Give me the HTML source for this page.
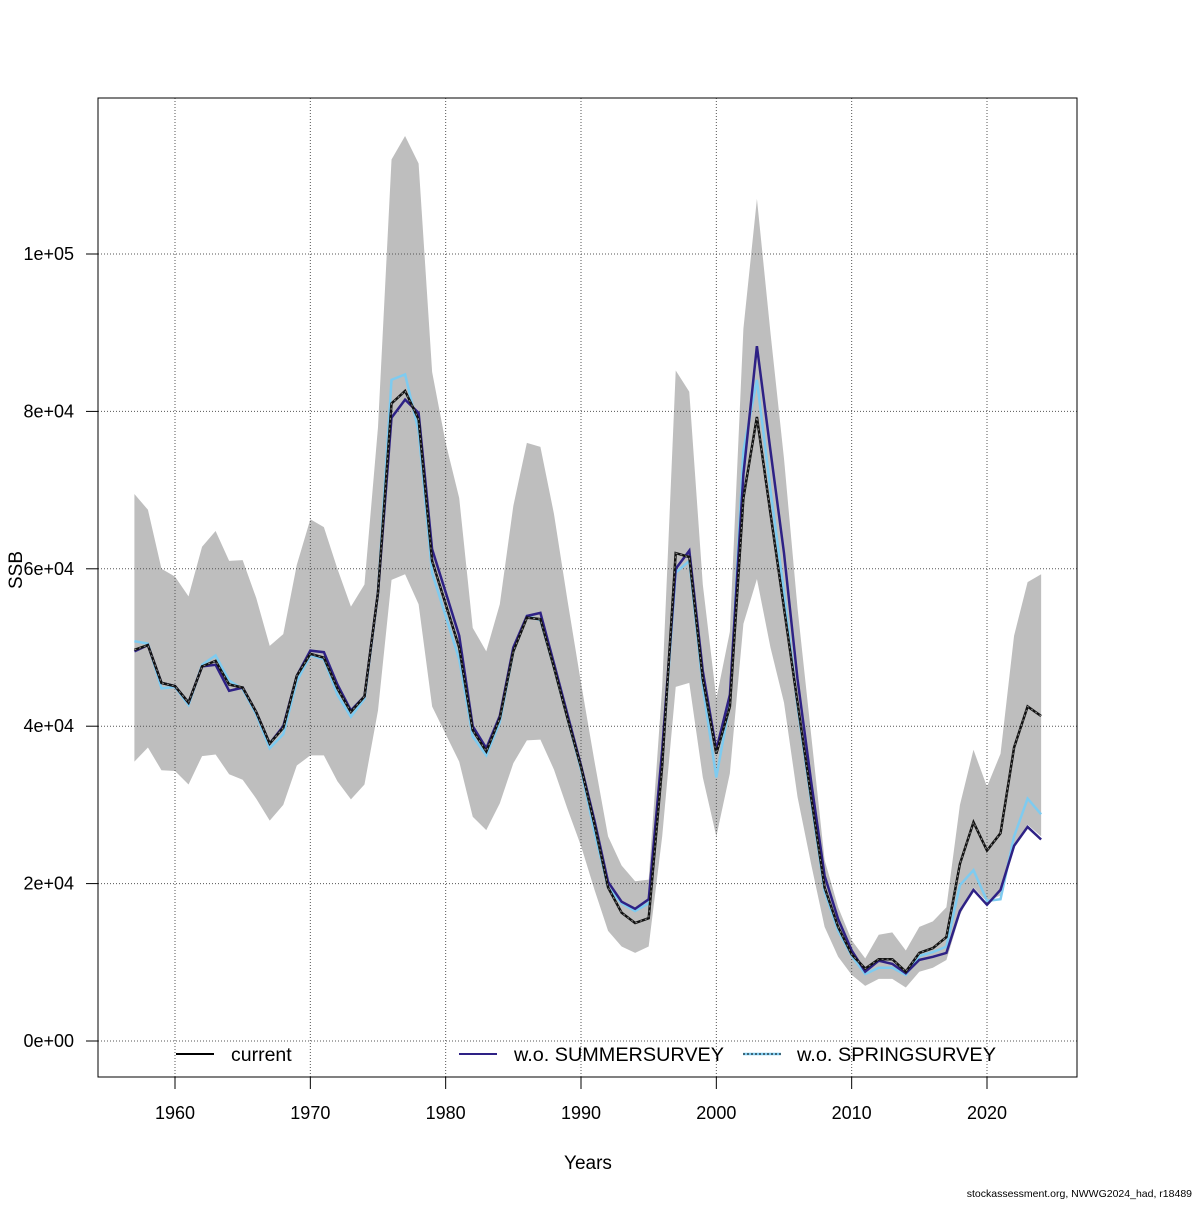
<!DOCTYPE html>
<html><head><meta charset="utf-8"><style>
html,body{margin:0;padding:0;background:#fff}
svg text{font-family:"Liberation Sans",sans-serif;fill:#000}
</style></head><body>
<svg id="chart" width="1200" height="1200" xmlns="http://www.w3.org/2000/svg">
<g id="band"></g>
<g id="grid"></g>
<g id="series"></g>
<rect x="98" y="98" width="979" height="979" fill="none" stroke="#000" stroke-width="1"/>
<g id="axes"></g>
<text x="588" y="1169" font-size="19" text-anchor="middle">Years</text>
<text transform="translate(22,570) rotate(-90)" font-size="19" text-anchor="middle">SSB</text>
<g>
<g><line x1="176" y1="1054" x2="214" y2="1054" stroke="#000" stroke-width="2"/><text x="231" y="1061" font-size="19.5">current</text></g>
<g><line x1="459" y1="1054" x2="497" y2="1054" stroke="#2e2185" stroke-width="2"/><text x="514" y="1061" font-size="19.5" textLength="210" lengthAdjust="spacingAndGlyphs">w.o. SUMMERSURVEY</text></g>
<g><line x1="743" y1="1054" x2="781" y2="1054" stroke="#7ecbf0" stroke-width="2.5"/><line x1="743" y1="1054" x2="781" y2="1054" stroke="#000" stroke-width="1" stroke-dasharray="2,2"/><text x="797" y="1061" font-size="19.5" textLength="199" lengthAdjust="spacingAndGlyphs">w.o. SPRINGSURVEY</text></g>
</g>
<text x="1192" y="1197" font-size="10.5" text-anchor="end">stockassessment.org, NWWG2024_had, r18489</text>
</svg>
<script>
const years=[];for(let y=1957;y<=2024;y++)years.push(y);
const current=[49.7,50.3,45.5,45.1,43.0,47.6,48.3,45.3,44.9,41.8,37.8,39.8,46.4,49.2,48.7,44.8,41.8,43.8,57,81,82.6,79,61,55.5,50,39.5,36.8,41,49.5,53.8,53.6,47.5,41,34.8,27.5,19.5,16.3,15.0,15.6,35,62,61.5,46,36.5,42.5,69,79.3,67,55,43,31,19.5,14.5,11,9.2,10.4,10.4,8.8,11.2,11.8,13.2,22.5,27.8,24.2,26.4,37.3,42.5,41.3];
const summer=[49.5,50.3,45.5,45.1,43.0,47.6,47.8,44.5,44.9,41.8,37.8,40,46.4,49.6,49.4,45.3,42.0,43.8,57,79.2,81.5,79.8,62.5,57,51.5,40,37.2,41.3,50,54,54.4,48,41.5,35,28,20.2,17.7,16.8,18,37,60,62.3,47,37,44,72,88.3,75,62,46,33,21,15.5,11.5,8.8,10.2,9.8,8.6,10.3,10.7,11.2,16.5,19.2,17.3,19.2,24.8,27.2,25.6];
const spring=[50.8,50.5,44.8,45,42.7,47.8,49,45.8,44.7,41.5,37.2,39,45.7,49,48.5,44,41.2,43.5,57,84,84.7,77.5,59.5,54,48.5,38.7,36.3,40.5,49.5,54,53.5,47.5,41,34.5,26.5,19.5,17.5,16.5,17.5,36,59.5,61,45,33.5,43,75,84,70,57,42.5,30.5,19,14,10.8,8.5,9.3,9.3,8.4,10.8,11.3,12,19.8,21.7,17.8,18,26,30.8,28.8];
const upper=[69.5,67.5,60,59,56.5,62.8,64.8,61,61.1,56.3,50.2,51.7,60.5,66.3,65.3,60,55.2,58,78,112,115,111.5,85,76,69,52.5,49.5,55.5,68,76,75.5,67,56,45.5,35.5,26,22.3,20.3,20.5,45,85.2,82.5,58,43.5,52,90.5,107,90,74,55,39,23,17,12.8,10.5,13.5,13.8,11.5,14.5,15.2,17,30,37,32.3,36.5,51.5,58.3,59.3];
const lower=[35.5,37.3,34.4,34.3,32.6,36.2,36.4,33.9,33.2,30.8,28,30,35,36.3,36.3,33,30.7,32.6,42,58.6,59.3,55.5,42.5,39,35.5,28.5,26.8,30.2,35.3,38.2,38.3,34.5,29.5,24.8,19.2,14,12,11.2,12,26,45,45.5,33.5,26,34,53,58.7,50,43,31,22.5,14.5,10.7,8.4,7,7.9,7.9,6.8,8.8,9.3,10.3,16,19.5,17.7,18.5,24.7,27.5,26];
const xTicks=[1960,1970,1980,1990,2000,2010,2020];
const yTicks=[0,20,40,60,80,100];
const yTickLabels=["0e+00","2e+04","4e+04","6e+04","8e+04","1e+05"];
const NS="http://www.w3.org/2000/svg";
function sx(y){return 175+(y-1960)*(987-175)/60;}
function sy(v){return 1041-v*7.87;}
function mk(tag,attrs,parent){const e=document.createElementNS(NS,tag);for(const k in attrs)e.setAttribute(k,attrs[k]);parent.appendChild(e);return e;}
const band=document.getElementById('band');
let pts=years.map((y,i)=>sx(y)+','+sy(upper[i]));
pts=pts.concat(years.slice().reverse().map((y,j)=>sx(y)+','+sy(lower[years.length-1-j])));
const poly=mk('polygon',{points:pts.join(' '),fill:'#bebebe',stroke:'none'},band);


const grid=document.getElementById('grid');
xTicks.forEach(t=>{const l=mk('line',{x1:sx(t),x2:sx(t),y1:98,y2:1077,stroke:'#555',"stroke-width":1,"stroke-dasharray":"1,2"},grid);

});
yTicks.forEach(t=>{const l=mk('line',{x1:98,x2:1077,y1:sy(t),y2:sy(t),stroke:'#555',"stroke-width":1,"stroke-dasharray":"1,2"},grid);

});
const ser=document.getElementById('series');
function path(arr){return years.map((y,i)=>(i?'L':'M')+sx(y).toFixed(1)+','+sy(arr[i]).toFixed(1)).join(' ');}
const pSpring=mk('path',{d:path(spring),fill:'none',stroke:'#7ecbf0',"stroke-width":2.5},ser);


const pSummer=mk('path',{d:path(summer),fill:'none',stroke:'#2e2185',"stroke-width":2.5},ser);


const pCur=mk('path',{d:path(current),fill:'none',stroke:'#111',"stroke-width":2.5},ser);


const pCur2=mk('path',{d:path(current),fill:'none',stroke:'#888',"stroke-width":1,"stroke-dasharray":"2,3"},ser);


const axes=document.getElementById('axes');
xTicks.forEach(t=>{mk('line',{x1:sx(t),x2:sx(t),y1:1077,y2:1089,stroke:'#000'},axes);
const tx=mk('text',{x:sx(t),y:1119,"font-size":18,"text-anchor":"middle"},axes);tx.textContent=t;

});
yTicks.forEach((t,i)=>{mk('line',{x1:86,x2:98,y1:sy(t),y2:sy(t),stroke:'#000'},axes);
const tx=mk('text',{x:74,y:sy(t)+6,"font-size":18,"text-anchor":"end"},axes);tx.textContent=yTickLabels[i];

});
</script>
</body></html>
